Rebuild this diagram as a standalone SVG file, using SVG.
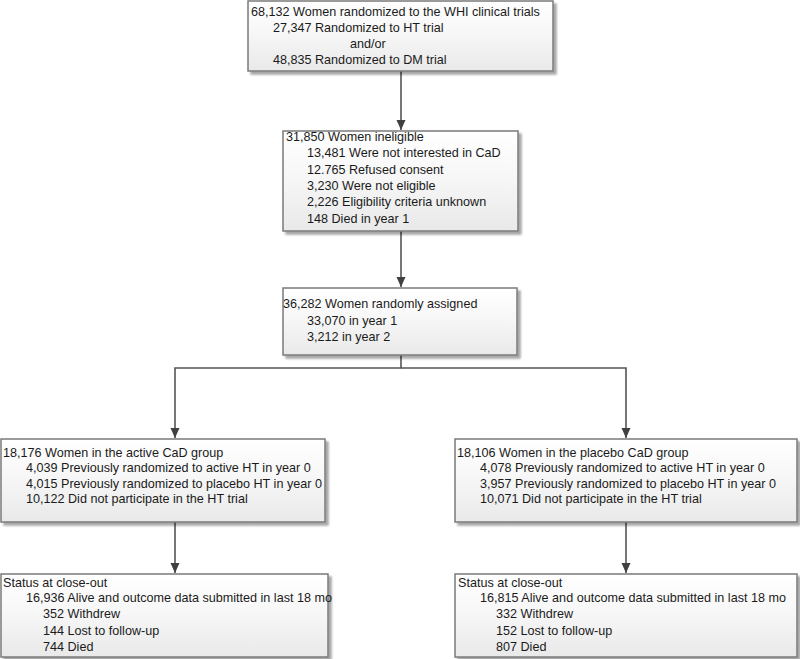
<svg xmlns="http://www.w3.org/2000/svg" width="800" height="659" viewBox="0 0 800 659">
<defs>
<linearGradient id="g" x1="0" y1="0" x2="0" y2="1">
<stop offset="0" stop-color="#ffffff"/>
<stop offset="0.45" stop-color="#f7f7f7"/>
<stop offset="1" stop-color="#e9e9e9"/>
</linearGradient>
<filter id="sh" x="-5%" y="-5%" width="115%" height="120%">
<feGaussianBlur in="SourceAlpha" stdDeviation="1.2"/>
<feOffset dx="2.5" dy="2.5" result="b"/>
<feComponentTransfer><feFuncA type="linear" slope="0.35"/></feComponentTransfer>
<feMerge><feMergeNode/><feMergeNode in="SourceGraphic"/></feMerge>
</filter>
<marker id="ah" viewBox="0 0 10 10" refX="10" refY="5" markerWidth="10" markerHeight="10" markerUnits="userSpaceOnUse" orient="auto">
<path d="M0,0.5 L10,5 L0,9.5 Z" fill="#404040"/>
</marker>
</defs>
<style>
.box{fill:url(#g);stroke:#7a7a7a;stroke-width:1.5;filter:url(#sh)}
text{font-family:"Liberation Sans",Arial,sans-serif;font-size:12.6px;fill:#1a1a1a}
.c{fill:none;stroke:#555555;stroke-width:1.6}
</style>
<rect width="800" height="659" fill="#ffffff"/>
<g id="connectors">
<line class="c" x1="401" y1="71" x2="401" y2="130" marker-end="url(#ah)"/>
<line class="c" x1="401" y1="231" x2="401" y2="287" marker-end="url(#ah)"/>
<polyline class="c" points="401,355 401,368 175,368 175,438" marker-end="url(#ah)"/>
<polyline class="c" points="401,368 626,368 626,438" marker-end="url(#ah)"/>
<line class="c" x1="175" y1="522" x2="175" y2="573" marker-end="url(#ah)"/>
<line class="c" x1="626" y1="522" x2="626" y2="573" marker-end="url(#ah)"/>
</g>
<g id="n1">
<rect class="box" x="248" y="1" width="305" height="70"/>
<text x="251" y="16">68,132 Women randomized to the WHI clinical trials</text>
<text x="273" y="32">27,347 Randomized to HT trial</text>
<text x="350" y="48">and/or</text>
<text x="273" y="64">48,835 Randomized to DM trial</text>
</g>
<g id="n2">
<rect class="box" x="283" y="131" width="235" height="100"/>
<text x="286" y="141">31,850 Women ineligible</text>
<text x="307" y="157">13,481 Were not interested in CaD</text>
<text x="307" y="174">12.765 Refused consent</text>
<text x="307" y="190">3,230 Were not eligible</text>
<text x="307" y="206">2,226 Eligibility criteria unknown</text>
<text x="307" y="223">148 Died in year 1</text>
</g>
<g id="n3">
<rect class="box" x="283" y="288" width="234" height="67"/>
<text x="283" y="308">36,282 Women randomly assigned</text>
<text x="307" y="325">33,070 in year 1</text>
<text x="307" y="341">3,212 in year 2</text>
</g>
<g id="n4">
<rect class="box" x="1" y="439" width="324" height="83"/>
<text x="3" y="457">18,176 Women in the active CaD group</text>
<text x="26" y="472">4,039 Previously randomized to active HT in year 0</text>
<text x="26" y="488">4,015 Previously randomized to placebo HT in year 0</text>
<text x="26" y="503">10,122 Did not participate in the HT trial</text>
</g>
<g id="n5">
<rect class="box" x="455" y="439" width="342" height="83"/>
<text x="457" y="457">18,106 Women in the placebo CaD group</text>
<text x="480" y="472">4,078 Previously randomized to active HT in year 0</text>
<text x="480" y="488">3,957 Previously randomized to placebo HT in year 0</text>
<text x="480" y="503">10,071 Did not participate in the HT trial</text>
</g>
<g id="n6">
<rect class="box" x="1" y="574" width="327" height="83"/>
<text x="3" y="587">Status at close-out</text>
<text x="26" y="602">16,936 Alive and outcome data submitted in last 18 mo</text>
<text x="43" y="618">352 Withdrew</text>
<text x="43" y="635">144 Lost to follow-up</text>
<text x="43" y="651">744 Died</text>
</g>
<g id="n7">
<rect class="box" x="455" y="574" width="342" height="83"/>
<text x="458" y="587">Status at close-out</text>
<text x="480" y="602">16,815 Alive and outcome data submitted in last 18 mo</text>
<text x="496" y="618">332 Withdrew</text>
<text x="496" y="635">152 Lost to follow-up</text>
<text x="496" y="651">807 Died</text>
</g>
</svg>
